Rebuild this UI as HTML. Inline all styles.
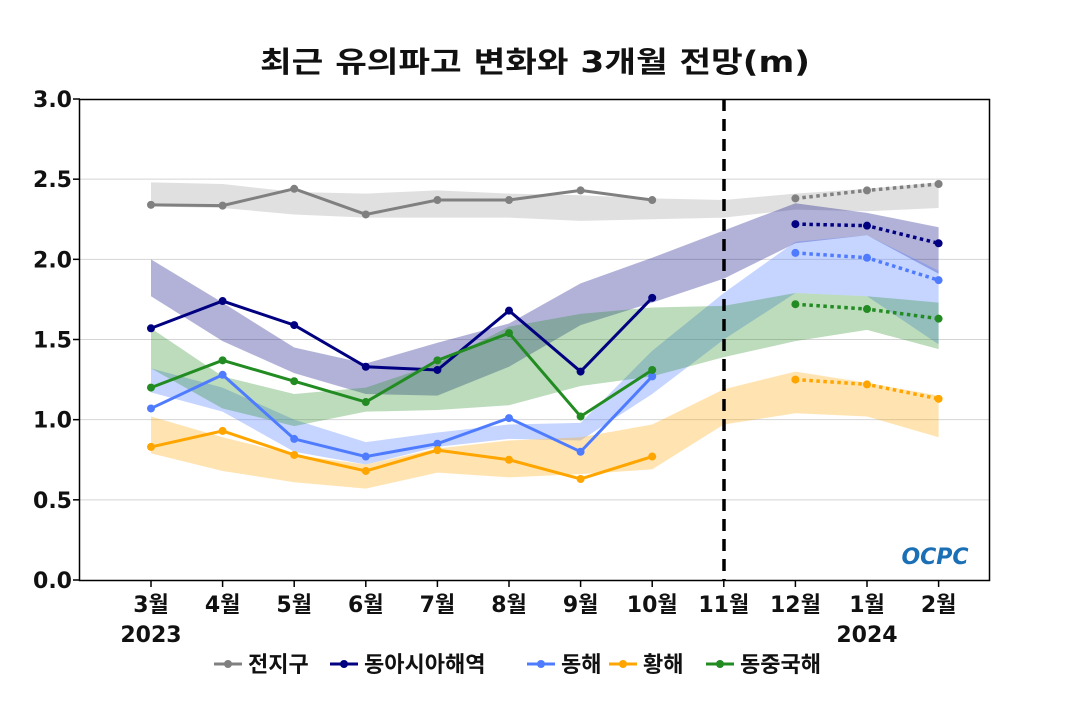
<!DOCTYPE html>
<html><head><meta charset="utf-8"><style>
body{margin:0;background:#fff;}
svg text{font-family:"DejaVu Sans","Noto Sans CJK KR",sans-serif;font-weight:bold;fill:#111;}
</style></head><body>
<svg id="c" width="1070" height="700" xmlns="http://www.w3.org/2000/svg"></svg>
<script>
const X=i=>151+i*71.6, Y=v=>580-v*160.33;
let s='';
s+='<text x="535" y="72" font-size="29" text-anchor="middle" textLength="550" lengthAdjust="spacingAndGlyphs">최근 유의파고 변화와 3개월 전망(m)</text>';
for(let k=1;k<=5;k++){const y=Y(k*0.5);s+=`<line x1="80" x2="990" y1="${y}" y2="${y}" stroke="#d4d4d4" stroke-width="1"/>`;}
const bands=[
['#909090',0.28,[2.48,2.47,2.42,2.41,2.43,2.41,2.40,2.38,2.37,2.41,2.44,2.48],[2.33,2.32,2.28,2.26,2.26,2.26,2.24,2.25,2.26,2.31,2.30,2.32]],
['#000080',0.3,[2.0,1.73,1.45,1.35,1.48,1.60,1.85,2.01,2.18,2.35,2.29,2.20],[1.77,1.49,1.29,1.16,1.15,1.33,1.59,1.73,1.88,2.10,2.15,1.91]],
['#4f7cff',0.32,[1.32,1.2,1.0,0.86,0.92,0.97,0.98,1.43,1.79,2.11,2.15,1.93],[1.17,1.05,0.80,0.72,0.83,0.88,0.87,1.16,1.50,1.79,1.77,1.47]],
['#ffa500',0.3,[1.02,0.89,0.78,0.72,0.82,0.87,0.89,0.97,1.19,1.30,1.23,1.15],[0.79,0.68,0.61,0.57,0.67,0.64,0.66,0.69,0.97,1.04,1.02,0.89]],
['#228b22',0.3,[1.57,1.27,1.16,1.20,1.35,1.58,1.66,1.70,1.71,1.79,1.77,1.73],[1.32,1.07,0.96,1.05,1.06,1.09,1.21,1.27,1.39,1.49,1.56,1.44]]];
bands.forEach(([c,o,u,l])=>{let p=u.map((v,i)=>X(i)+','+Y(v));for(let i=l.length-1;i>=0;i--)p.push(X(i)+','+Y(l[i]));s+=`<polygon points="${p.join(' ')}" fill="${c}" fill-opacity="${o}"/>`;});
const lines=[
['#808080',[2.34,2.335,2.44,2.28,2.37,2.37,2.43,2.37],[2.38,2.43,2.47]],
['#000080',[1.57,1.74,1.59,1.33,1.31,1.68,1.30,1.76],[2.22,2.21,2.10]],
['#4f7cff',[1.07,1.28,0.88,0.77,0.85,1.01,0.80,1.27],[2.04,2.01,1.87]],
['#ffa500',[0.83,0.93,0.78,0.68,0.81,0.75,0.63,0.77],[1.25,1.22,1.13]],
['#228b22',[1.20,1.37,1.24,1.11,1.37,1.54,1.02,1.31],[1.72,1.69,1.63]]];
lines.forEach(([c,a,f])=>{s+=`<polyline fill="none" stroke="${c}" stroke-width="3" points="${a.map((v,i)=>X(i)+','+Y(v)).join(' ')}"/>`;
s+=`<polyline fill="none" stroke="${c}" stroke-width="3.5" stroke-dasharray="3.5 3.5" points="${f.map((v,i)=>X(i+9)+','+Y(v)).join(' ')}"/>`;
a.forEach((v,i)=>s+=`<circle cx="${X(i)}" cy="${Y(v)}" r="4" fill="${c}"/>`);f.forEach((v,i)=>s+=`<circle cx="${X(i+9)}" cy="${Y(v)}" r="4" fill="${c}"/>`);});
s+=`<line x1="724" x2="724" y1="99" y2="580" stroke="#000" stroke-width="3.5" stroke-dasharray="12 8"/>`;
s+='<rect x="79.5" y="99.5" width="910" height="481" fill="none" stroke="#000" stroke-width="1.5"/>';
for(let k=0;k<=6;k++){const y=Y(k*0.5);s+=`<line x1="73" x2="80" y1="${y}" y2="${y}" stroke="#000" stroke-width="1.5"/><text x="72" y="${y+8}" font-size="22" text-anchor="end">${(k*0.5).toFixed(1)}</text>`;}
const m=['3월','4월','5월','6월','7월','8월','9월','10월','11월','12월','1월','2월'];
m.forEach((t,i)=>{s+=`<line x1="${X(i)}" x2="${X(i)}" y1="580" y2="587" stroke="#000" stroke-width="1.5"/><text x="${X(i)}" y="612" font-size="22" text-anchor="middle">${t}</text>`;});
s+=`<text x="151" y="642" font-size="22" text-anchor="middle">2023</text><text x="867" y="642" font-size="22" text-anchor="middle">2024</text>`;
s+='<text x="935" y="564" font-size="22" text-anchor="middle" style="fill:#1a6fb5;font-style:italic">OCPC</text>';
const lg=[['#808080','전지구',214],['#000080','동아시아해역',330],['#4f7cff','동해',527],['#ffa500','황해',609],['#228b22','동중국해',706]];
lg.forEach(([c,t,x])=>{s+=`<line x1="${x}" x2="${x+28}" y1="664" y2="664" stroke="${c}" stroke-width="3"/><circle cx="${x+14}" cy="664" r="4" fill="${c}"/><text x="${x+34}" y="672" font-size="22">${t}</text>`;});
document.getElementById('c').innerHTML=s;
</script>
</body></html>
